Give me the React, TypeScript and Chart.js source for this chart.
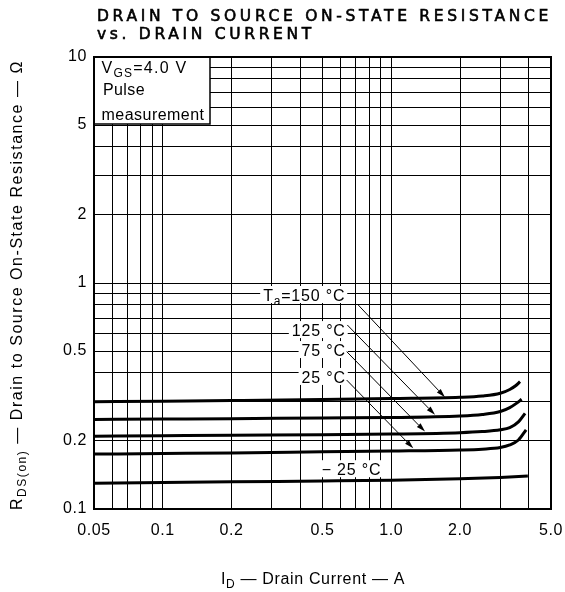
import React, { useEffect, useRef } from "react";
import { Chart, registerables } from "chart.js";

Chart.register(...registerables);

// ---------------- Data ----------------
const TITLE_LINE_1 = "DRAIN TO SOURCE ON-STATE RESISTANCE";
const TITLE_LINE_2 = "vs. DRAIN CURRENT";

const X_TICKS = [0.05, 0.06, 0.07, 0.08, 0.09, 0.1, 0.2, 0.3, 0.4, 0.5, 0.6, 0.7, 0.8, 0.9, 1, 2, 3, 4, 5];
const X_LABEL_VALUES = [0.05, 0.1, 0.2, 0.5, 1, 2, 5];
const X_LABEL_TEXT = ["0.05", "0.1", "0.2", "0.5", "1.0", "2.0", "5.0"];

const Y_TICKS = [0.1, 0.2, 0.3, 0.4, 0.5, 0.6, 0.7, 0.8, 0.9, 1, 2, 3, 4, 5, 6, 7, 8, 9, 10];
const Y_LABEL_VALUES = [0.1, 0.2, 0.5, 1, 2, 5, 10];
const Y_LABEL_TEXT = ["0.1", "0.2", "0.5", "1", "2", "5", "10"];

// Drain current (A) and on-state resistance (ohm) per ambient temperature
const ID_150 = [0.05, 0.1, 0.2, 0.5, 1, 2, 2.5, 3, 3.3, 3.5, 3.66];
const RDS_150 = [0.298, 0.3, 0.302, 0.305, 0.308, 0.312, 0.316, 0.325, 0.338, 0.351, 0.366];
const ID_125 = [0.05, 0.1, 0.2, 0.5, 1, 2, 2.5, 3, 3.3, 3.54, 3.72];
const RDS_125 = [0.249, 0.25, 0.251, 0.253, 0.254, 0.258, 0.262, 0.27, 0.281, 0.294, 0.306];
const ID_75 = [0.05, 0.1, 0.2, 0.5, 1, 2, 2.5, 3, 3.3, 3.6, 3.85];
const RDS_75 = [0.21, 0.211, 0.212, 0.213, 0.2145, 0.2175, 0.22, 0.224, 0.229, 0.243, 0.265];
const ID_25 = [0.05, 0.1, 0.2, 0.5, 1, 2, 2.5, 3, 3.3, 3.6, 3.89];
const RDS_25 = [0.175, 0.176, 0.177, 0.179, 0.1805, 0.1825, 0.184, 0.187, 0.192, 0.202, 0.224];
const ID_M25 = [0.05, 0.1, 0.2, 0.5, 1, 2, 3, 3.96];
const RDS_M25 = [0.13, 0.131, 0.132, 0.133, 0.134, 0.136, 0.138, 0.14];

const SERIES_NAMES = ["150 °C", "125 °C", "75 °C", "25 °C", "−25 °C"];
const SERIES_X = [ID_150, ID_125, ID_75, ID_25, ID_M25];
const SERIES_Y = [RDS_150, RDS_125, RDS_75, RDS_25, RDS_M25];

// ---------------- Annotation placement (data space) ----------------
const LABEL_ANCHORS = [
  { x: 0.275, y: 0.885 },
  { x: 0.367, y: 0.619 },
  { x: 0.405, y: 0.505 },
  { x: 0.405, y: 0.384 },
  { x: 0.496, y: 0.15 },
];
const ARROWS = [
  { x1: 0.717, y1: 0.799, x2: 1.718, y2: 0.312 },
  { x1: 0.642, y1: 0.652, x2: 1.554, y2: 0.261 },
  { x1: 0.638, y1: 0.497, x2: 1.405, y2: 0.22 },
  { x1: 0.638, y1: 0.372, x2: 1.248, y2: 0.1856 },
];

const FONT = '"Liberation Sans", Arial, Helvetica, sans-serif';
const TITLE_FONT = '"DejaVu Sans", "Liberation Sans", sans-serif';

type Run = { t: string; sub?: boolean };

function setFont(ctx: any, size: number, spacing: number, family = FONT, weight = "normal") {
  ctx.font = `${weight} ${size}px ${family}`;
  ctx.letterSpacing = `${spacing}px`;
}

function runsWidth(ctx: any, runs: Run[], size: number, spacing: number, family = FONT, weight = "normal") {
  let w = 0;
  for (const r of runs) {
    setFont(ctx, r.sub ? size * 0.75 : size, spacing, family, weight);
    w += ctx.measureText(r.t).width;
  }
  return w;
}

function drawRuns(
  ctx: any,
  runs: Run[],
  x: number,
  baseline: number,
  size: number,
  spacing: number,
  family = FONT,
  weight = "normal",
  strokeW = 0
) {
  let cx = x;
  ctx.textAlign = "left";
  ctx.textBaseline = "alphabetic";
  for (const r of runs) {
    const fs = r.sub ? size * 0.75 : size;
    setFont(ctx, fs, spacing, family, weight);
    const by = baseline + (r.sub ? size * 0.27 : 0);
    ctx.fillText(r.t, cx, by);
    if (strokeW > 0) {
      ctx.strokeStyle = "#000";
      ctx.lineWidth = strokeW;
      ctx.strokeText(r.t, cx, by);
    }
    cx += ctx.measureText(r.t).width;
  }
  return cx - x;
}

function fitSpacing(ctx: any, runs: Run[], size: number, target: number, family = FONT, weight = "normal") {
  const nat = runsWidth(ctx, runs, size, 0, family, weight);
  const n = runs.reduce((a, r) => a + r.t.length, 0);
  return (target - nat) / n;
}

function arrow(ctx: any, x1: number, y1: number, x2: number, y2: number) {
  ctx.save();
  ctx.strokeStyle = "#000";
  ctx.fillStyle = "#000";
  ctx.lineWidth = 1;
  const a = Math.atan2(y2 - y1, x2 - x1);
  const L = 9;
  const W = 2.6;
  const bx = x2 - L * Math.cos(a);
  const by = y2 - L * Math.sin(a);
  ctx.beginPath();
  ctx.moveTo(x1, y1);
  ctx.lineTo(bx, by);
  ctx.stroke();
  ctx.beginPath();
  ctx.moveTo(x2, y2);
  ctx.lineTo(bx + W * Math.sin(a), by - W * Math.cos(a));
  ctx.lineTo(bx - W * Math.sin(a), by + W * Math.cos(a));
  ctx.closePath();
  ctx.fill();
  ctx.restore();
}

const decorPlugin = {
  id: "decor",
  beforeDraw(chart: any) {
    chart.ctx.letterSpacing = "0.6px";
  },
  beforeDatasetsDraw(chart: any) {
    const { ctx, chartArea: ca } = chart;
    ctx.save();
    ctx.strokeStyle = "#000";
    ctx.lineWidth = 2;
    ctx.strokeRect(ca.left, ca.top, ca.right - ca.left, ca.bottom - ca.top);
    ctx.restore();
  },
  afterDatasetsDraw(chart: any) {
    const { ctx, chartArea: ca } = chart;
    const xs = chart.scales.x;
    const ys = chart.scales.y;
    ctx.save();
    ctx.fillStyle = "#000";

    // Condition box
    const bx0 = ca.left, by0 = ca.top, bx1 = ca.left + 116, by1 = ca.top + 67;
    ctx.fillStyle = "#fff";
    ctx.fillRect(bx0 + 1, by0 + 1, bx1 - bx0 - 1, by1 - by0 - 1);
    ctx.strokeStyle = "#000";
    ctx.lineWidth = 1.5;
    ctx.beginPath();
    ctx.moveTo(bx0, by1);
    ctx.lineTo(bx1, by1);
    ctx.lineTo(bx1, by0);
    ctx.stroke();
    ctx.fillStyle = "#000";
    const vgs: Run[] = [{ t: "V" }, { t: "GS", sub: true }, { t: "=4.0 V" }];
    drawRuns(ctx, vgs, bx0 + 7.5, by0 + 16, 16, fitSpacing(ctx, vgs, 16, 86));
    drawRuns(ctx, [{ t: "Pulse" }], bx0 + 9, by0 + 38, 16, 0.4);
    const meas: Run[] = [{ t: "measurement" }];
    drawRuns(ctx, meas, bx0 + 7.5, by0 + 63, 16, fitSpacing(ctx, meas, 16, 103));

    // Temperature labels
    const labelRuns: Run[][] = [
      [{ t: "T" }, { t: "a", sub: true }, { t: "=150 °C" }],
      [{ t: SERIES_NAMES[1] }],
      [{ t: SERIES_NAMES[2] }],
      [{ t: SERIES_NAMES[3] }],
      [{ t: SERIES_NAMES[4].replace("−", "− ") }],
    ];
    labelRuns.forEach((runs, i) => {
      const px = xs.getPixelForValue(LABEL_ANCHORS[i].x);
      const py = ys.getPixelForValue(LABEL_ANCHORS[i].y);
      const w = runsWidth(ctx, runs, 16, 0.8);
      ctx.fillStyle = "#fff";
      ctx.fillRect(px - 3, py - 9, w + 5, 17);
      ctx.fillStyle = "#000";
      drawRuns(ctx, runs, px, py + 6, 16, 0.8);
    });

    // Arrows
    ARROWS.forEach((a) => {
      arrow(
        ctx,
        xs.getPixelForValue(a.x1),
        ys.getPixelForValue(a.y1),
        xs.getPixelForValue(a.x2),
        ys.getPixelForValue(a.y2)
      );
    });

    // Title
    ctx.fillStyle = "#000";
    const t1: Run[] = [{ t: TITLE_LINE_1 }];
    const sp = fitSpacing(ctx, t1, 15.5, 455, TITLE_FONT);
    drawRuns(ctx, t1, 97, 21, 15.5, sp, TITLE_FONT, "normal", 0.6);
    drawRuns(ctx, [{ t: TITLE_LINE_2 }], 97, 38.5, 15.5, sp, TITLE_FONT, "normal", 0.6);

    // X axis title
    const xt: Run[] = [{ t: "I" }, { t: "D", sub: true }, { t: " — Drain Current — A" }];
    const xsp = fitSpacing(ctx, xt, 16, 184);
    const xw = runsWidth(ctx, xt, 16, xsp);
    drawRuns(ctx, xt, 313 - xw / 2, 584, 16, xsp);

    // Y axis title (rotated)
    const yt: Run[] = [{ t: "R" }, { t: "DS(on)", sub: true }, { t: " — Drain to Source On-State Resistance — Ω" }];
    const ysp = fitSpacing(ctx, yt, 16, 450);
    const yw = runsWidth(ctx, yt, 16, ysp);
    ctx.save();
    ctx.translate(22, 285);
    ctx.rotate(-Math.PI / 2);
    drawRuns(ctx, yt, -yw / 2, 0, 16, ysp);
    ctx.restore();

    ctx.restore();
  },
  afterDraw(chart: any) {
    chart.ctx.letterSpacing = "0px";
  },
};

function labelFor(values: number[], texts: string[], v: number) {
  const i = values.findIndex((u) => Math.abs(u - v) < 1e-9);
  return i >= 0 ? texts[i] : "";
}

export default function App() {
  const ref = useRef<HTMLCanvasElement>(null);
  useEffect(() => {
    document.body.style.margin = "0";
    document.body.style.overflow = "hidden";
    const canvas = ref.current!;
    const datasets = SERIES_NAMES.map((name, s) => ({
      label: name,
      data: SERIES_X[s].map((x, i) => ({ x, y: SERIES_Y[s][i] })),
      borderColor: "#000",
      backgroundColor: "#000",
      borderWidth: 3,
      pointRadius: 0,
      fill: false,
      cubicInterpolationMode: "monotone" as const,
    }));
    const chart = new Chart(canvas, {
      type: "line",
      data: { datasets },
      options: {
        responsive: false,
        animation: false,
        events: [],
        layout: { padding: { top: 57, right: 14, left: 0, bottom: 0 } },
        plugins: {
          legend: { display: false },
          tooltip: { enabled: false },
          title: { display: false },
        },
        scales: {
          x: {
            type: "logarithmic",
            min: 0.05,
            max: 5,
            afterBuildTicks: (scale: any) => {
              scale.ticks = X_TICKS.map((v) => ({ value: v }));
            },
            afterFit: (scale: any) => {
              scale.height = 83;
              scale.paddingLeft = 0;
              scale.paddingRight = 0;
            },
            grid: { color: "#000", lineWidth: 1, drawTicks: false },
            border: { color: "#000", width: 1 },
            ticks: {
              autoSkip: false,
              maxRotation: 0,
              minRotation: 0,
              padding: 12,
              color: "#000",
              font: { family: FONT, size: 16 },
              callback: (v: any) => labelFor(X_LABEL_VALUES, X_LABEL_TEXT, Number(v)),
            },
          },
          y: {
            type: "logarithmic",
            min: 0.1,
            max: 10,
            afterBuildTicks: (scale: any) => {
              scale.ticks = Y_TICKS.map((v) => ({ value: v }));
            },
            afterFit: (scale: any) => {
              scale.width = 94;
              scale.paddingTop = 0;
              scale.paddingBottom = 0;
            },
            grid: { color: "#000", lineWidth: 1, drawTicks: false },
            border: { color: "#000", width: 1 },
            ticks: {
              autoSkip: false,
              padding: 7,
              color: "#000",
              font: { family: FONT, size: 16 },
              callback: (v: any) => labelFor(Y_LABEL_VALUES, Y_LABEL_TEXT, Number(v)),
            },
          },
        },
      } as any,
      plugins: [decorPlugin],
    });
    return () => chart.destroy();
  }, []);
  return <canvas ref={ref} width={565} height={592} style={{ display: "block", width: 565, height: 592 }} />;
}
